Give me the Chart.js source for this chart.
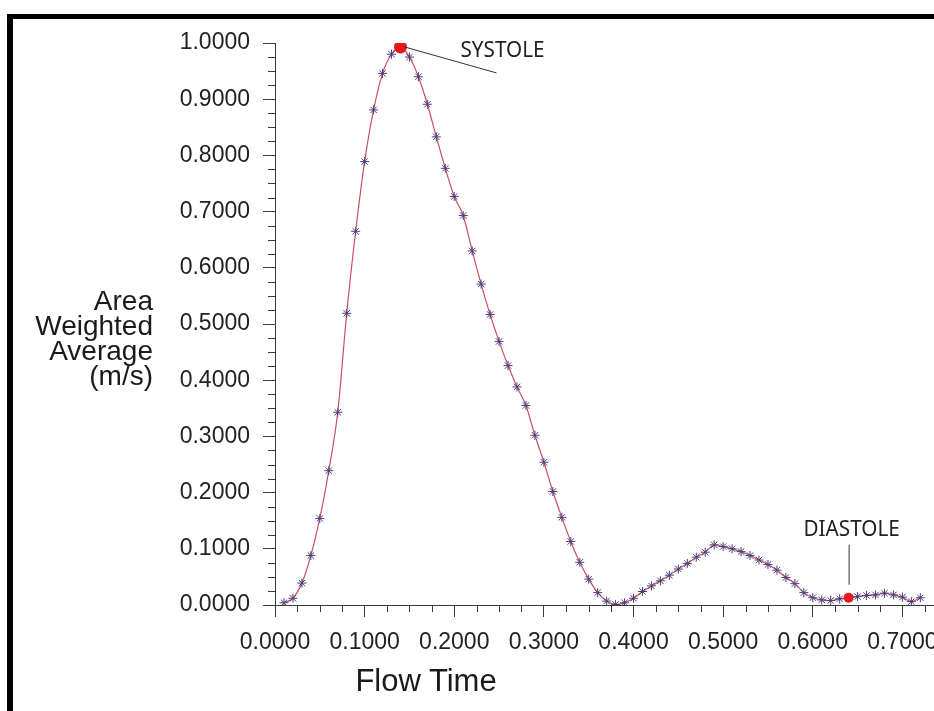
<!DOCTYPE html>
<html>
<head>
<meta charset="utf-8">
<script src="https://cdn.jsdelivr.net/npm/chart.js@4.4.1/dist/chart.umd.min.js"></script>
<style>
  html, body { margin: 0; padding: 0; background: #fff; }
  #wrap { position: relative; width: 934px; height: 711px; overflow: hidden; }
  #chart { position: absolute; left: 0; top: 0; }
  #frame { position: absolute; left: 7px; top: 14px; width: 940px; height: 720px;
           border-left: 6px solid #000; border-top: 5px solid #000; pointer-events: none; }
  .title { position: absolute; font-family: "Liberation Sans", Arial, sans-serif; color: #1a1a1a; }
  #ytitle { left: 0; top: 288px; width: 153px; text-align: right; font-size: 28px; line-height: 25px; }
  #xtitle { left: 296px; top: 665px; width: 260px; text-align: center; font-size: 31px; line-height: 31px; }
</style>
</head>
<body>
<div id="wrap">
  <canvas id="chart" width="934" height="711"></canvas>
  <div id="ytitle" class="title">Area<br>Weighted<br>Average<br>(m/s)</div>
  <div id="xtitle" class="title">Flow Time</div>
  <div id="frame"></div>
</div>
<script>
const flowTime = [
    0.01, 0.02, 0.03, 0.04, 0.05, 0.06, 0.07, 0.08, 0.09, 0.10,
    0.11, 0.12, 0.13, 0.14, 0.15, 0.16, 0.17, 0.18, 0.19, 0.20,
    0.21, 0.22, 0.23, 0.24, 0.25, 0.26, 0.27, 0.28, 0.29, 0.30,
    0.31, 0.32, 0.33, 0.34, 0.35, 0.36, 0.37, 0.38, 0.39, 0.40,
    0.41, 0.42, 0.43, 0.44, 0.45, 0.46, 0.47, 0.48, 0.49, 0.50,
    0.51, 0.52, 0.53, 0.54, 0.55, 0.56, 0.57, 0.58, 0.59, 0.60,
    0.61, 0.62, 0.63, 0.64, 0.65, 0.66, 0.67, 0.68, 0.69, 0.70,
    0.71, 0.72
];
const areaWeightedAverage = [
    0.004, 0.012, 0.039, 0.088, 0.154, 0.239, 0.343, 0.519, 0.665, 0.789,
    0.881, 0.946, 0.980, 0.993, 0.975, 0.940, 0.891, 0.833, 0.777, 0.727,
    0.693, 0.630, 0.571, 0.517, 0.469, 0.426, 0.388, 0.355, 0.302, 0.254,
    0.202, 0.156, 0.113, 0.076, 0.046, 0.022, 0.007, 0.001, 0.004, 0.012,
    0.024, 0.034, 0.043, 0.053, 0.064, 0.074, 0.085, 0.094, 0.107, 0.104,
    0.100, 0.095, 0.088, 0.080, 0.072, 0.062, 0.049, 0.038, 0.022, 0.013,
    0.009, 0.008, 0.011, 0.013, 0.015, 0.017, 0.018, 0.021, 0.018, 0.014,
    0.006, 0.013
];
const markedTimes = [0.14, 0.64];
const markedValues = [0.993, 0.013];
const markedLabels = ['SYSTOLE', 'DIASTOLE'];
const xTickValues = [0, 0.1, 0.2, 0.3, 0.4, 0.5, 0.6, 0.7];
const yTickValues = [0, 0.1, 0.2, 0.3, 0.4, 0.5, 0.6, 0.7, 0.8, 0.9, 1.0];

const axisColor = '#3a3a3a';
const tickFont = { family: '"Liberation Sans", Arial, sans-serif', size: 23 };

// short ticks between the labelled ones, every 0.025, and the axis line run out to the edge
const minorTicks = {
    id: 'minorTicks',
    afterDraw(chart) {
        const ctx = chart.ctx;
        const xs = chart.scales.x, ys = chart.scales.y;
        ctx.save();
        ctx.strokeStyle = axisColor;
        ctx.lineWidth = 1;
        ctx.beginPath();
        for (let v = 0.025; v < xs.max; v += 0.025) {
            if (Math.abs(v * 10 - Math.round(v * 10)) < 0.01) continue;
            const px = Math.round(xs.getPixelForValue(v)) + 0.5;
            ctx.moveTo(px, ys.bottom);
            ctx.lineTo(px, ys.bottom + 7);
        }
        for (let v = 0.025; v < ys.max; v += 0.025) {
            if (Math.abs(v * 10 - Math.round(v * 10)) < 0.01) continue;
            const py = Math.round(ys.getPixelForValue(v)) + 0.5;
            ctx.moveTo(xs.left, py);
            ctx.lineTo(xs.left - 7, py);
        }
        ctx.moveTo(xs.right, ys.bottom + 0.5);
        ctx.lineTo(chart.width, ys.bottom + 0.5);
        ctx.stroke();
        ctx.restore();
    }
};

function noteText(ctx, text, x, y, align) {
    ctx.save();
    ctx.translate(x, y);
    ctx.scale(0.94, 1);
    ctx.textAlign = align;
    ctx.fillText(text, 0, 0);
    ctx.restore();
}

// SYSTOLE / DIASTOLE notes with their leader lines
const phaseNotes = {
    id: 'phaseNotes',
    afterDatasetsDraw(chart) {
        const ctx = chart.ctx;
        const pts = chart.getDatasetMeta(0).data;
        ctx.save();
        ctx.strokeStyle = '#333';
        ctx.lineWidth = 1;
        ctx.fillStyle = '#222';
        ctx.font = '22px "Noto Sans", "Open Sans", sans-serif';
        ctx.textBaseline = 'alphabetic';

        const s = pts[0];
        ctx.beginPath();
        ctx.moveTo(s.x + 4, s.y);
        ctx.lineTo(s.x + 96, s.y + 26);
        ctx.stroke();
        noteText(ctx, markedLabels[0], s.x + 60, s.y + 10, 'left');

        const d = pts[1];
        ctx.beginPath();
        ctx.moveTo(d.x + 0.5, d.y - 53);
        ctx.lineTo(d.x + 0.5, d.y - 13);
        ctx.stroke();
        noteText(ctx, markedLabels[1], d.x + 3, d.y - 62, 'center');
        ctx.restore();
    }
};

new Chart(document.getElementById('chart'), {
    type: 'scatter',
    data: {
        datasets: [{
            label: 'phases',
            data: markedTimes.map((t, i) => ({ x: t, y: markedValues[i] })),
            pointRadius: [6.5, 5],
            pointBackgroundColor: '#e8161e',
            pointBorderColor: '#e8161e',
            pointBorderWidth: 0,
            order: 0
        }, {
            label: 'Area Weighted Average',
            data: flowTime.map((t, i) => ({ x: t, y: areaWeightedAverage[i] })),
            showLine: true,
            borderColor: '#c9505c',
            borderWidth: 1.2,
            cubicInterpolationMode: 'monotone',
            pointStyle: 'star',
            pointRadius: 4.5,
            pointBorderWidth: 1,
            pointBorderColor: '#4a3d7c',
            pointBackgroundColor: '#4a3d7c',
            order: 1
        }]
    },
    options: {
        responsive: false,
        animation: false,
        layout: { padding: { top: 43, left: 0, right: 0, bottom: 0 } },
        plugins: { legend: { display: false }, tooltip: { enabled: false } },
        scales: {
            x: {
                type: 'linear',
                min: 0,
                max: 0.728,
                afterBuildTicks: (scale) => { scale.ticks = xTickValues.map(v => ({ value: v })); },
                afterFit: (scale) => {
                    scale.height = 106;
                    scale.paddingLeft = 0;
                    scale.paddingRight = 0;
                },
                grid: { drawOnChartArea: false, tickLength: 12, tickColor: axisColor },
                border: { color: axisColor, width: 1 },
                ticks: {
                    padding: 12,
                    color: '#222',
                    font: tickFont,
                    maxRotation: 0,
                    callback: (v) => Number(v).toFixed(4)
                }
            },
            y: {
                min: 0,
                max: 1,
                afterBuildTicks: (scale) => { scale.ticks = yTickValues.map(v => ({ value: v })); },
                afterFit: (scale) => {
                    scale.width = 275;
                    scale.paddingTop = 0;
                    scale.paddingBottom = 0;
                },
                grid: { drawOnChartArea: false, tickLength: 12, tickColor: axisColor },
                border: { color: axisColor, width: 1 },
                ticks: {
                    padding: 13,
                    color: '#222',
                    font: tickFont,
                    callback: (v) => Number(v).toFixed(4)
                }
            }
        }
    },
    plugins: [minorTicks, phaseNotes]
});
</script>
</body>
</html>
